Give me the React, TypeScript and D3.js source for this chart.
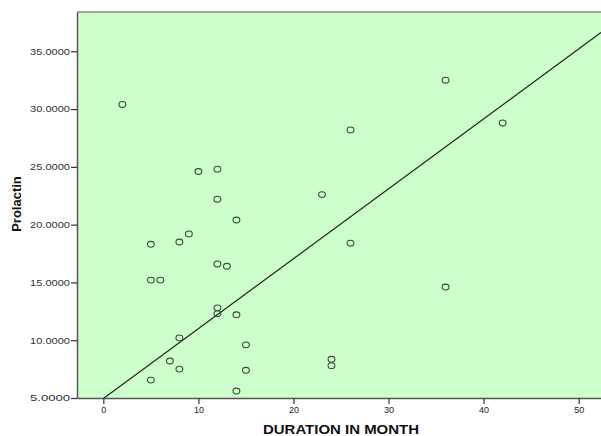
import React, { useEffect, useRef } from 'react';
import * as d3 from 'd3';

// duration (months) vs prolactin
const duration = [2, 36, 26, 42, 10, 12, 12, 14, 9, 5, 8, 12, 13, 5, 6, 12, 12, 14, 8, 15, 7, 8, 15, 5, 14, 23, 26, 36, 24, 24];
const prolactin = [30.4, 32.5, 28.2, 28.8, 24.6, 24.8, 22.2, 20.4, 19.2, 18.3, 18.5, 16.6, 16.4, 15.2, 15.2, 12.8, 12.3, 12.2, 10.2, 9.6, 8.2, 7.5, 7.4, 6.55, 5.6, 22.6, 18.4, 14.6, 8.35, 7.8];
const xTicks = [0, 10, 20, 30, 40, 50];
const yTicks = [5, 10, 15, 20, 25, 30, 35];
const fitLine = { intercept: 4.95, slope: 0.605 };

const App = () => {
  const svgRef = useRef<SVGSVGElement>(null);
  const width = 601, height = 436;
  const margin = { top: 12, right: 0, bottom: 38, left: 77 };

  useEffect(() => {
    const svg = d3.select(svgRef.current);
    svg.selectAll('*').remove();

    const x = d3.scaleLinear().domain([-2.77, 52.35]).range([margin.left, width - margin.right]);
    const y = d3.scaleLinear().domain([5, 38.4]).range([height - margin.bottom, margin.top]);

    // plot background
    svg.append('rect')
      .attr('x', margin.left)
      .attr('y', margin.top)
      .attr('width', width - margin.left - margin.right)
      .attr('height', height - margin.top - margin.bottom)
      .attr('fill', '#ccffcc');

    svg.append('clipPath').attr('id', 'plot-clip')
      .append('rect')
      .attr('x', margin.left)
      .attr('y', margin.top)
      .attr('width', width - margin.left - margin.right)
      .attr('height', height - margin.top - margin.bottom);

    // top border
    svg.append('line')
      .attr('x1', margin.left).attr('x2', width)
      .attr('y1', margin.top).attr('y2', margin.top)
      .attr('stroke', '#8a8a8a').attr('stroke-width', 1.5);

    // fit line
    const [x0, x1] = x.domain();
    svg.append('line')
      .attr('clip-path', 'url(#plot-clip)')
      .attr('x1', x(x0)).attr('y1', y(fitLine.intercept + fitLine.slope * x0))
      .attr('x2', x(x1)).attr('y2', y(fitLine.intercept + fitLine.slope * x1))
      .attr('stroke', '#222').attr('stroke-width', 1.2);

    // points
    svg.selectAll('ellipse.pt')
      .data(duration.map((d, i) => [d, prolactin[i]]))
      .enter()
      .append('ellipse')
      .attr('class', 'pt')
      .attr('cx', d => x(d[0]))
      .attr('cy', d => y(d[1]))
      .attr('rx', 3.4)
      .attr('ry', 2.9)
      .attr('fill', 'none')
      .attr('stroke', '#3a4a3a')
      .attr('stroke-width', 1.1);

    // y axis
    const yAxis = svg.append('g').attr('transform', `translate(${margin.left},0)`)
      .call(d3.axisLeft(y).tickValues(yTicks).tickSizeInner(6).tickSizeOuter(0).tickPadding(1)
        .tickFormat(d => d3.format('.4f')(d as number)));
    yAxis.select('.domain').attr('stroke', '#555').attr('stroke-width', 1.5);
    yAxis.selectAll('.tick line').attr('stroke', '#333').attr('stroke-width', 1.2);
    yAxis.selectAll('.tick text')
      .attr('font-family', 'Liberation Sans, Arial, sans-serif')
      .attr('font-size', 9)
      .attr('textLength', 40)
      .attr('lengthAdjust', 'spacingAndGlyphs')
      .attr('fill', '#333');

    // x axis
    const xAxis = svg.append('g').attr('transform', `translate(0,${height - margin.bottom})`)
      .call(d3.axisBottom(x).tickValues(xTicks).tickSizeInner(6).tickSizeOuter(0).tickPadding(3)
        .tickFormat(d3.format('d')));
    xAxis.select('.domain').attr('stroke', '#555').attr('stroke-width', 1.5);
    xAxis.selectAll('.tick line').attr('stroke', '#333').attr('stroke-width', 1.2);
    xAxis.selectAll('.tick text')
      .attr('font-family', 'Liberation Sans, Arial, sans-serif')
      .attr('font-size', 9)
      .attr('fill', '#222');

    // axis titles
    svg.append('text')
      .attr('x', 341)
      .attr('y', 434)
      .attr('text-anchor', 'middle')
      .attr('font-family', 'Liberation Sans, Arial, sans-serif')
      .attr('font-weight', 'bold')
      .attr('font-size', 12.5)
      .attr('textLength', 156)
      .attr('lengthAdjust', 'spacingAndGlyphs')
      .attr('fill', '#111')
      .text('DURATION IN MONTH');

    svg.append('text')
      .attr('transform', 'translate(20.5,204) rotate(-90)')
      .attr('text-anchor', 'middle')
      .attr('font-family', 'Liberation Sans, Arial, sans-serif')
      .attr('font-weight', 'bold')
      .attr('font-size', 13)
      .attr('fill', '#111')
      .text('Prolactin');
  }, []);

  return (
    <svg ref={svgRef} width={width} height={height}
      style={{ position: 'absolute', left: 0, top: 0, background: '#fff' }} />
  );
};

export default App;
